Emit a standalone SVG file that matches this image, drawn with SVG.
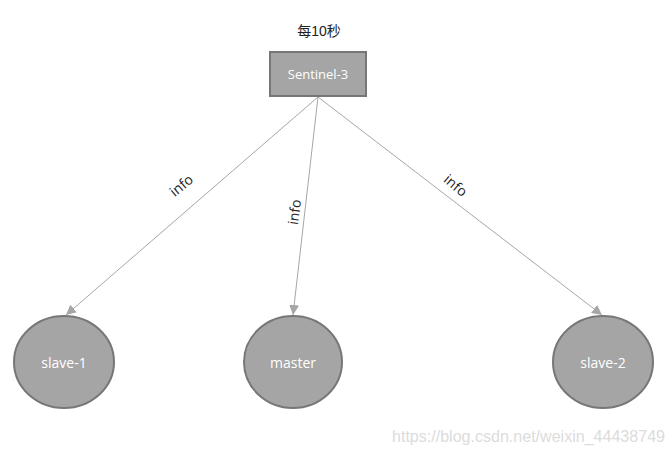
<svg xmlns="http://www.w3.org/2000/svg" width="672" height="460" viewBox="0 0 672 460">
<style>
.node{fill:#a5a5a5;stroke:#777;stroke-width:2}
.nt{fill:#fff;font-family:"Open Sans","Liberation Sans",sans-serif;font-size:14px;text-anchor:middle;dominant-baseline:central}
.lbl{fill:#222;font-family:"Open Sans","Liberation Sans",sans-serif;font-size:14px;text-anchor:middle;dominant-baseline:central}
.edge{stroke:#a6a6a6;stroke-width:1;fill:none;marker-end:url(#arr)}
</style>
<defs>
<marker id="arr" viewBox="0 0 10 10" refX="10" refY="5" markerWidth="10" markerHeight="10" markerUnits="userSpaceOnUse" orient="auto">
<path d="M0,0 L10,5 L0,10 z" fill="#a6a6a6"/>
</marker>
</defs>
<rect width="672" height="460" fill="#fff"/>
<text x="319" y="31" class="lbl" style="font-family:'Liberation Sans','Noto Sans CJK SC',sans-serif">每10秒</text>
<g id="edges">
<line class="edge" x1="318" y1="97" x2="66" y2="315"/>
<line class="edge" x1="318" y1="97" x2="293" y2="315"/>
<line class="edge" x1="318" y1="97" x2="602" y2="315"/>
<text class="lbl" transform="translate(181,185) rotate(-40)">info</text>
<text class="lbl" transform="translate(294,212) rotate(-82)">info</text>
<text class="lbl" transform="translate(456,185) rotate(40)">info</text>
</g>
<g id="sentinel3">
<rect class="node" x="270" y="52" width="96" height="44"/>
<text class="nt" x="318" y="74" style="font-size:13px">Sentinel-3</text>
</g>
<g id="slave1">
<ellipse class="node" cx="64" cy="362" rx="50" ry="46"/>
<text class="nt" x="64" y="362">slave-1</text>
</g>
<g id="master">
<ellipse class="node" cx="293" cy="362" rx="49" ry="46"/>
<text class="nt" x="293" y="362">master</text>
</g>
<g id="slave2">
<ellipse class="node" cx="603" cy="362" rx="50" ry="46"/>
<text class="nt" x="603" y="362">slave-2</text>
</g>
<text x="665" y="442" fill="#dcdcdc" font-family="'Liberation Sans',sans-serif" font-size="16" text-anchor="end" textLength="273" lengthAdjust="spacingAndGlyphs">https://blog.csdn.net/weixin_44438749</text>
</svg>
